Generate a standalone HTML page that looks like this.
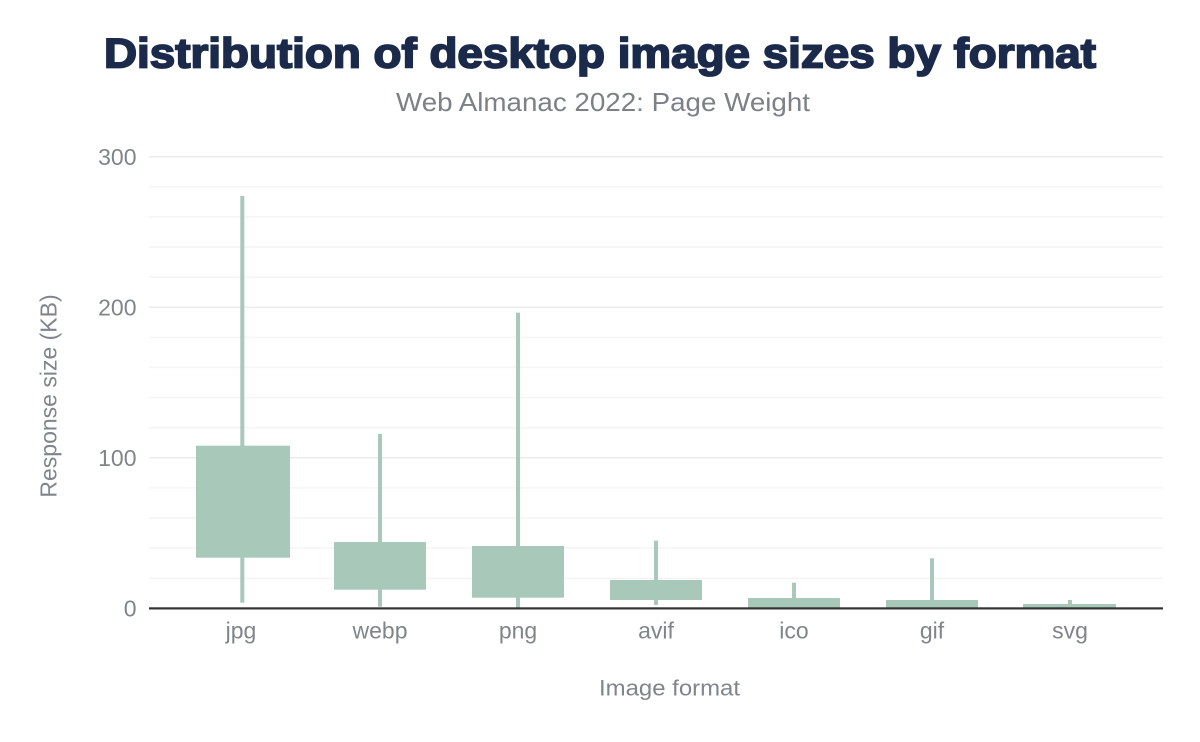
<!DOCTYPE html>
<html>
<head>
<meta charset="utf-8">
<style>
  html, body { margin: 0; padding: 0; background: #ffffff; }
  svg { display: block; }
  text { font-family: "Liberation Sans", Arial, sans-serif; }
</style>
</head>
<body>
<svg width="1200" height="742" viewBox="0 0 1200 742" xmlns="http://www.w3.org/2000/svg">
  <rect x="0" y="0" width="1200" height="742" fill="#ffffff"/>

  <!-- Title -->
  <text x="600" y="67.5" text-anchor="middle" font-size="42" font-weight="bold" fill="#1b2a4a" stroke="#1b2a4a" stroke-width="1.8" textLength="992" lengthAdjust="spacingAndGlyphs">Distribution of desktop image sizes by format</text>
  <!-- Subtitle -->
  <text x="603" y="111" text-anchor="middle" font-size="26" fill="#7c8187" textLength="414" lengthAdjust="spacingAndGlyphs">Web Almanac 2022: Page Weight</text>

  <!-- Minor gridlines -->
  <g stroke="#f4f4f4" stroke-width="1.5">
    <line x1="149" x2="1163" y1="578.2" y2="578.2"/>
    <line x1="149" x2="1163" y1="548.1" y2="548.1"/>
    <line x1="149" x2="1163" y1="518" y2="518"/>
    <line x1="149" x2="1163" y1="487.9" y2="487.9"/>
    <line x1="149" x2="1163" y1="427.7" y2="427.7"/>
    <line x1="149" x2="1163" y1="397.6" y2="397.6"/>
    <line x1="149" x2="1163" y1="367.5" y2="367.5"/>
    <line x1="149" x2="1163" y1="337.4" y2="337.4"/>
    <line x1="149" x2="1163" y1="277.1" y2="277.1"/>
    <line x1="149" x2="1163" y1="247" y2="247"/>
    <line x1="149" x2="1163" y1="216.9" y2="216.9"/>
    <line x1="149" x2="1163" y1="186.8" y2="186.8"/>
  </g>
  <!-- Major gridlines -->
  <g stroke="#ebebeb" stroke-width="1.5">
    <line x1="149" x2="1163" y1="457.8" y2="457.8"/>
    <line x1="149" x2="1163" y1="307.2" y2="307.2"/>
    <line x1="149" x2="1163" y1="156.7" y2="156.7"/>
  </g>

  <!-- Y tick labels -->
  <g font-size="23" fill="#80858b" text-anchor="end">
    <text x="136.5" y="164.8">300</text>
    <text x="136.5" y="315.3">200</text>
    <text x="136.5" y="465.9">100</text>
    <text x="136.5" y="616.3">0</text>
  </g>

  <!-- Y axis title -->
  <text transform="translate(56.5,396) rotate(-90)" x="0" y="0" text-anchor="middle" font-size="23" fill="#80858b">Response size (KB)</text>

  <!-- Boxes & whiskers -->
  <g fill="#a8c9b9">
    <!-- jpg -->
    <rect x="240.3" y="196" width="4" height="406.7"/>
    <rect x="196" y="445.7" width="94" height="112"/>
    <!-- webp -->
    <rect x="378" y="434" width="4" height="172.7"/>
    <rect x="334" y="542" width="92" height="47.7"/>
    <!-- png -->
    <rect x="516" y="312.7" width="4" height="295.3"/>
    <rect x="472" y="546" width="92" height="51.7"/>
    <!-- avif -->
    <rect x="654" y="540.7" width="4" height="64.3"/>
    <rect x="610" y="580" width="92" height="20"/>
    <!-- ico -->
    <rect x="792" y="582.7" width="4" height="25"/>
    <rect x="748" y="598" width="92" height="10"/>
    <!-- gif -->
    <rect x="930" y="558.3" width="4" height="49.7"/>
    <rect x="886" y="600" width="92" height="8"/>
    <!-- svg -->
    <rect x="1068" y="600" width="4" height="8"/>
    <rect x="1023" y="604" width="93" height="4"/>
  </g>

  <!-- X axis baseline -->
  <rect x="149" y="607.3" width="1014" height="2.2" fill="#333333"/>

  <!-- X tick labels -->
  <g font-size="23" fill="#80858b" text-anchor="middle">
    <text x="241" y="638.5">jpg</text>
    <text x="380" y="638.5">webp</text>
    <text x="518" y="638.5">png</text>
    <text x="656" y="638.5">avif</text>
    <text x="794" y="638.5">ico</text>
    <text x="932" y="638.5">gif</text>
    <text x="1070" y="638.5">svg</text>
  </g>

  <!-- X axis title -->
  <text x="669.5" y="695.5" text-anchor="middle" font-size="22" fill="#80858b" textLength="141" lengthAdjust="spacingAndGlyphs">Image format</text>
</svg>
</body>
</html>
